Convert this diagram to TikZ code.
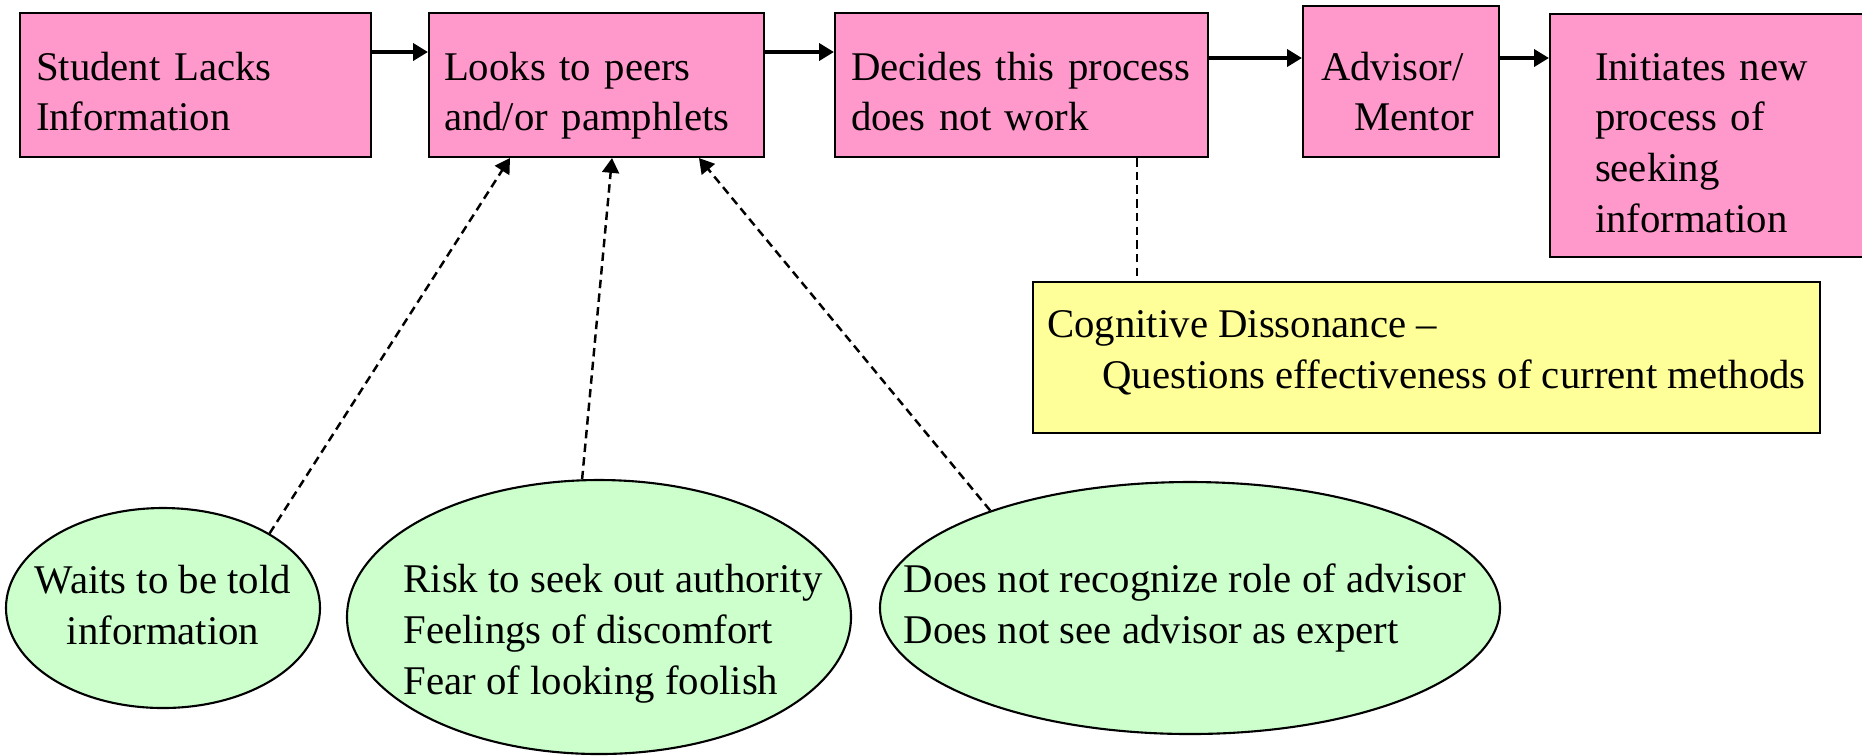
\documentclass[tikz,border=0pt]{standalone}
\usepackage{fontspec}
\setmainfont{Liberation Serif}
\usetikzlibrary{positioning, arrows.meta, shapes.geometric}

\definecolor{stagepink}{HTML}{FF99CC}
\definecolor{noteyellow}{HTML}{FFFF99}
\definecolor{barriergreen}{HTML}{CCFFCC}

\begin{document}
\begin{tikzpicture}[
    % GLOBAL CFG
    font=\fontsize{11.6}{14.5}\selectfont,
    >={Triangle[length=4.2pt, width=4.8pt]},
    % Styles
    stage/.style={% For the pink process boxes
        rectangle,
        draw,
        fill=stagepink,
        line width=0.6pt,
        align=left,
        minimum height=1.44cm,
        inner ysep=0pt,
        text height=0.42cm,
        text depth=0.52cm,
        },
    note/.style={% For the yellow box
        rectangle,
        draw,
        fill=noteyellow,
        line width=0.6pt,
        align=left,
        inner ysep=0pt,
        },
    barrier/.style={% For the green ellipses
        ellipse,
        draw,
        fill=barriergreen,
        line width=0.6pt,
        inner sep=0pt,
        },
    ArrowMain/.style={% Solid arrows between the boxes
        ->,
        line width=1pt,
        },
    ArrowDash/.style={% Dashed arrows from the ellipses
        ->,
        dashed,
        dash pattern=on 2.4pt off 1.5pt,
        line width=0.7pt,
        },
    ]

    % fixes the margins
    \useasboundingbox (0,0) rectangle (18.62,-7.55);

%Start drawing the thing...
    % Draw the process boxes
    \node [stage, text width=3.19cm, inner xsep=0.16cm] (lacks) at (1.955,-0.85) {Student Lacks\\Information};
    \node [stage, text width=3.05cm, inner xsep=0.15cm] (peers) at (5.965,-0.85) {Looks to peers\\and/or pamphlets};
    \node [stage, text width=3.41cm, inner xsep=0.16cm] (decides) at (10.215,-0.85) {Decides this process\\does not work};
    \node [stage, text width=1.60cm, inner xsep=0.18cm, minimum height=1.51cm, text height=0.49cm] (advisor) at (14.01,-0.815) {Advisor/\\\hspace*{0.33cm}Mentor};
    \node [stage, text width=2.26cm, inner xsep=0.45cm, minimum height=2.43cm, text depth=1.53cm] (initiates) at (17.08,-1.355) {Initiates new\\process of\\seeking\\information};

    % Draw the dissonance box
    \node [note, minimum width=7.87cm, minimum height=1.51cm, text height=0.61cm, text depth=0cm] (dissonance) at (14.265,-3.575) {Cognitive Dissonance –\\\hspace*{0.55cm}Questions effectiveness of current methods};

    % Draw the ellipses
    \node [barrier, minimum width=3.14cm, minimum height=2.00cm,
        label={[align=center, yshift=0.03cm]center:Waits to be told\\information}] (waits) at (1.63,-6.08) {};
    \node [barrier, minimum width=5.04cm, minimum height=2.74cm,
        label={[align=left, xshift=0.14cm, yshift=-0.17cm]center:Risk to seek out authority\\Feelings of discomfort\\Fear of looking foolish}] (risk) at (5.99,-6.17) {};
    \node [barrier, minimum width=6.20cm, minimum height=2.52cm,
        label={[align=left, xshift=-0.05cm]center:Does not recognize role of advisor\\Does not see advisor as expert}] (recognize) at (11.90,-6.08) {};

% Start connecting all.
    % Main chain
    \draw [ArrowMain] ([yshift=3.3mm]lacks.east) -- ([yshift=3.3mm]peers.west);
    \draw [ArrowMain] ([yshift=3.3mm]peers.east) -- ([yshift=3.3mm]decides.west);
    \draw [ArrowMain] ([yshift=2.7mm]decides.east) -- ([yshift=2.7mm]decides.east -| advisor.west);
    \draw [ArrowMain] ([yshift=2.35mm]advisor.east) -- ([yshift=2.35mm]advisor.east -| initiates.west);

    % Dissonance
    \draw [dashed, dash pattern=on 2.4pt off 1.5pt, line width=0.7pt] ([xshift=1.155cm]decides.south) -- ([xshift=1.155cm]decides.south |- dissonance.north);

    % Ellipses to the peers box
    \draw [ArrowDash] (waits.35) -- ([xshift=-0.865cm]peers.south);
    \draw [ArrowDash] (risk.97) -- ([xshift=0.155cm]peers.south);
    \draw [ArrowDash] (recognize.154) -- ([xshift=1.025cm]peers.south);

\end{tikzpicture}
\end{document}
